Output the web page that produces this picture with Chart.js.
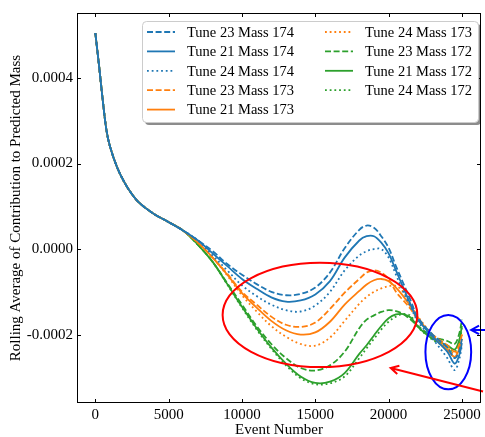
<!DOCTYPE html>
<html>
<head>
<meta charset="utf-8">
<script src="https://cdn.jsdelivr.net/npm/chart.js@4.4.0/dist/chart.umd.min.js"></script>
<style>
  html, body { margin: 0; padding: 0; background: #fff; }
  canvas { display: block; }
</style>
</head>
<body>
<canvas id="myChart" width="485" height="437"></canvas>
<script>
let events = [0, 250, 500, 750, 1000, 1500, 2000, 2500, 3000, 4000, 5000, 6000,
  7000, 8000, 9000, 10000, 11000, 12000, 13000, 14000, 15000, 16000, 17000, 18000, 18500,
  19000, 19500, 20000, 20500, 21000, 21500, 22000, 23000, 24000, 24500, 24800, 25000];

// Mass 174
let t23m174 = [5.05e-4, 4.3e-4, 3.5e-4, 2.8e-4, 2.4e-4, 1.9e-4, 1.55e-4, 1.28e-4, 1.08e-4, 0.82e-4, 0.63e-4, 0.43e-4,
  0.2e-4, -0.05e-4, -0.35e-4, -0.6e-4, -0.82e-4, -1.0e-4, -1.08e-4, -1.05e-4, -0.9e-4, -0.55e-4, 0.02e-4, 0.45e-4, 0.55e-4,
  0.5e-4, 0.3e-4, 0.03e-4, -0.4e-4, -0.8e-4, -1.2e-4, -1.6e-4, -2.0e-4, -2.3e-4, -2.55e-4, -2.4e-4, -2.1e-4];
let t21m174 = [5.05e-4, 4.3e-4, 3.5e-4, 2.8e-4, 2.4e-4, 1.9e-4, 1.55e-4, 1.28e-4, 1.08e-4, 0.82e-4, 0.63e-4, 0.43e-4,
  0.2e-4, -0.1e-4, -0.4e-4, -0.7e-4, -0.93e-4, -1.13e-4, -1.23e-4, -1.2e-4, -1.06e-4, -0.75e-4, -0.2e-4, 0.2e-4, 0.3e-4,
  0.3e-4, 0.15e-4, -0.1e-4, -0.5e-4, -0.9e-4, -1.3e-4, -1.65e-4, -2.05e-4, -2.4e-4, -2.68e-4, -2.5e-4, -2.2e-4];
let t24m174 = [5.05e-4, 4.3e-4, 3.5e-4, 2.8e-4, 2.4e-4, 1.9e-4, 1.55e-4, 1.28e-4, 1.08e-4, 0.82e-4, 0.63e-4, 0.43e-4,
  0.2e-4, -0.15e-4, -0.5e-4, -0.85e-4, -1.1e-4, -1.3e-4, -1.43e-4, -1.46e-4, -1.32e-4, -1.0e-4, -0.5e-4, -0.15e-4, -0.05e-4,
  0.0e-4, 0.0e-4, -0.2e-4, -0.6e-4, -1.0e-4, -1.35e-4, -1.7e-4, -2.1e-4, -2.55e-4, -2.83e-4, -2.6e-4, -2.25e-4];

// Mass 173
let t23m173 = [5.05e-4, 4.3e-4, 3.5e-4, 2.8e-4, 2.4e-4, 1.9e-4, 1.55e-4, 1.28e-4, 1.08e-4, 0.82e-4, 0.63e-4, 0.43e-4,
  0.15e-4, -0.2e-4, -0.58e-4, -1.0e-4, -1.3e-4, -1.58e-4, -1.77e-4, -1.82e-4, -1.72e-4, -1.4e-4, -1.02e-4, -0.7e-4, -0.55e-4,
  -0.5e-4, -0.55e-4, -0.7e-4, -1.0e-4, -1.2e-4, -1.4e-4, -1.65e-4, -2.0e-4, -2.25e-4, -2.4e-4, -2.25e-4, -2.0e-4];
let t21m173 = [5.05e-4, 4.3e-4, 3.5e-4, 2.8e-4, 2.4e-4, 1.9e-4, 1.55e-4, 1.28e-4, 1.08e-4, 0.82e-4, 0.63e-4, 0.43e-4,
  0.15e-4, -0.2e-4, -0.6e-4, -1.03e-4, -1.37e-4, -1.68e-4, -1.9e-4, -2.0e-4, -1.95e-4, -1.7e-4, -1.3e-4, -0.98e-4, -0.83e-4,
  -0.73e-4, -0.7e-4, -0.75e-4, -0.9e-4, -1.1e-4, -1.35e-4, -1.6e-4, -2.05e-4, -2.35e-4, -2.52e-4, -2.35e-4, -2.1e-4];
let t24m173 = [5.05e-4, 4.3e-4, 3.5e-4, 2.8e-4, 2.4e-4, 1.9e-4, 1.55e-4, 1.28e-4, 1.08e-4, 0.82e-4, 0.63e-4, 0.43e-4,
  0.15e-4, -0.2e-4, -0.62e-4, -1.08e-4, -1.46e-4, -1.8e-4, -2.05e-4, -2.22e-4, -2.26e-4, -2.07e-4, -1.68e-4, -1.28e-4, -1.12e-4,
  -1.0e-4, -0.92e-4, -0.87e-4, -0.86e-4, -1.0e-4, -1.3e-4, -1.58e-4, -2.0e-4, -2.3e-4, -2.45e-4, -2.3e-4, -2.0e-4];

// Mass 172
let t23m172 = [5.05e-4, 4.3e-4, 3.5e-4, 2.8e-4, 2.4e-4, 1.9e-4, 1.55e-4, 1.28e-4, 1.08e-4, 0.82e-4, 0.63e-4, 0.43e-4,
  0.1e-4, -0.3e-4, -0.8e-4, -1.3e-4, -1.8e-4, -2.22e-4, -2.55e-4, -2.78e-4, -2.84e-4, -2.72e-4, -2.4e-4, -1.85e-4, -1.65e-4,
  -1.55e-4, -1.47e-4, -1.43e-4, -1.45e-4, -1.52e-4, -1.65e-4, -1.8e-4, -2.05e-4, -2.15e-4, -2.22e-4, -2.0e-4, -1.65e-4];
let t21m172 = [5.05e-4, 4.3e-4, 3.5e-4, 2.8e-4, 2.4e-4, 1.9e-4, 1.55e-4, 1.28e-4, 1.08e-4, 0.82e-4, 0.63e-4, 0.43e-4,
  0.1e-4, -0.3e-4, -0.82e-4, -1.35e-4, -1.85e-4, -2.3e-4, -2.68e-4, -2.98e-4, -3.13e-4, -3.1e-4, -2.9e-4, -2.45e-4, -2.25e-4,
  -2.02e-4, -1.8e-4, -1.62e-4, -1.53e-4, -1.52e-4, -1.6e-4, -1.82e-4, -2.1e-4, -2.25e-4, -2.35e-4, -2.15e-4, -1.8e-4];
let t24m172 = [5.05e-4, 4.3e-4, 3.5e-4, 2.8e-4, 2.4e-4, 1.9e-4, 1.55e-4, 1.28e-4, 1.08e-4, 0.82e-4, 0.63e-4, 0.43e-4,
  0.1e-4, -0.3e-4, -0.83e-4, -1.37e-4, -1.88e-4, -2.33e-4, -2.72e-4, -3.02e-4, -3.16e-4, -3.14e-4, -2.98e-4, -2.55e-4, -2.32e-4,
  -2.1e-4, -1.88e-4, -1.7e-4, -1.58e-4, -1.52e-4, -1.56e-4, -1.82e-4, -2.12e-4, -2.3e-4, -2.4e-4, -2.2e-4, -1.85e-4];

let xTicks = [0, 5000, 10000, 15000, 20000, 25000];
let yTicks = [-0.0002, 0, 0.0002, 0.0004];

// hand drawn highlights, in data units
let redEllipse = { x: 15320, y: -1.54e-4, rx: 6640, ry: 1.22e-4 };
let blueEllipse = { x: 24070, y: -2.41e-4, rx: 1560, ry: 0.87e-4 };
let redArrow = { from: [26440, -3.33e-4], to: [20140, -2.78e-4] };
let blueArrow = { from: [26700, -1.89e-4], to: [25630, -1.89e-4] };

const SERIF = "'Liberation Serif', 'DejaVu Serif', serif";
const BLUE = '#1f77b4', ORANGE = '#ff7f0e', GREEN = '#2ca02c';
const DASH = [6, 2.6], DOT = [1.8, 2.9], SOLID = [];

function series(label, data, color, dash) {
  return { label: label, data: data, borderColor: color, borderDash: dash, borderWidth: 1.8,
    pointRadius: 0, tension: 0.35, fill: false };
}

/**
 * Frame with inward ticks on all four sides, like the matplotlib style
 */
const frame = {
  id: 'frame',
  afterDraw(chart) {
    const ctx = chart.ctx, a = chart.chartArea;
    const x = chart.scales.x, y = chart.scales.y;
    ctx.save();
    ctx.strokeStyle = '#000';
    ctx.lineWidth = 1;
    ctx.strokeRect(a.left + 0.5, a.top + 0.5, a.right - a.left - 1, a.bottom - a.top - 1);
    ctx.beginPath();
    xTicks.forEach(v => {
      let px = Math.round(x.getPixelForValue(v)) + 0.5;
      ctx.moveTo(px, a.bottom); ctx.lineTo(px, a.bottom - 4);
      ctx.moveTo(px, a.top); ctx.lineTo(px, a.top + 4);
    });
    yTicks.forEach(v => {
      let py = Math.round(y.getPixelForValue(v)) + 0.5;
      ctx.moveTo(a.left, py); ctx.lineTo(a.left + 4, py);
      ctx.moveTo(a.right, py); ctx.lineTo(a.right - 4, py);
    });
    ctx.stroke();
    ctx.restore();
  }
};

function arrow(ctx, x, y, a, color) {
  let x0 = x.getPixelForValue(a.from[0]), y0 = y.getPixelForValue(a.from[1]);
  let x1 = x.getPixelForValue(a.to[0]), y1 = y.getPixelForValue(a.to[1]);
  let ang = Math.atan2(y0 - y1, x0 - x1);
  ctx.strokeStyle = color;
  ctx.lineWidth = 2;
  ctx.beginPath();
  ctx.moveTo(x0, y0); ctx.lineTo(x1, y1);
  ctx.moveTo(x1 + 9 * Math.cos(ang + 0.5), y1 + 9 * Math.sin(ang + 0.5));
  ctx.lineTo(x1, y1);
  ctx.lineTo(x1 + 9 * Math.cos(ang - 0.5), y1 + 9 * Math.sin(ang - 0.5));
  ctx.stroke();
}

function ellipse(ctx, x, y, e, color) {
  let cx = x.getPixelForValue(e.x), cy = y.getPixelForValue(e.y);
  let rx = x.getPixelForValue(e.x + e.rx) - cx;
  let ry = cy - y.getPixelForValue(e.y + e.ry);
  ctx.strokeStyle = color;
  ctx.lineWidth = 2;
  ctx.beginPath();
  ctx.ellipse(cx, cy, rx, ry, 0, 0, 2 * Math.PI);
  ctx.stroke();
}

const highlights = {
  id: 'highlights',
  afterDatasetsDraw(chart) {
    const ctx = chart.ctx, x = chart.scales.x, y = chart.scales.y;
    ctx.save();
    ellipse(ctx, x, y, redEllipse, '#ff0000');
    ellipse(ctx, x, y, blueEllipse, '#0000ff');
    arrow(ctx, x, y, redArrow, '#ff0000');
    arrow(ctx, x, y, blueArrow, '#0000ff');
    ctx.restore();
  }
};

/**
 * Two column legend, first five entries on the left
 */
const legendBox = {
  id: 'legendBox',
  afterDraw(chart) {
    const ctx = chart.ctx;
    const bx = 142, by = 21, bw = 336, bh = 101;
    ctx.save();
    ctx.fillStyle = 'rgba(0,0,0,0.45)';
    ctx.beginPath(); ctx.roundRect(bx + 3, by + 3, bw, bh, 4); ctx.fill();
    ctx.fillStyle = '#fff';
    ctx.strokeStyle = '#cccccc';
    ctx.lineWidth = 1;
    ctx.beginPath(); ctx.roundRect(bx + 0.5, by + 0.5, bw, bh, 4); ctx.fill(); ctx.stroke();
    ctx.font = '14.5px ' + SERIF;
    ctx.textBaseline = 'middle';
    chart.data.datasets.forEach((d, i) => {
      let col = i < 5 ? 0 : 1, row = i < 5 ? i : i - 5;
      let lx = col ? 325 : 147, ly = 32 + row * 19.4;
      ctx.strokeStyle = d.borderColor;
      ctx.lineWidth = 1.8;
      ctx.setLineDash(d.borderDash);
      ctx.beginPath(); ctx.moveTo(lx, ly); ctx.lineTo(lx + 28, ly); ctx.stroke();
      ctx.setLineDash([]);
      ctx.fillStyle = '#000';
      ctx.fillText(d.label, lx + 40, ly + 1);
    });
    ctx.restore();
  }
};

let ctx = document.getElementById('myChart').getContext('2d');
window.myChart = new Chart(ctx, {
  type: 'line',
  data: {
    labels: events,
    datasets: [
      series('Tune 23 Mass 174', t23m174, BLUE, DASH),
      series('Tune 21 Mass 174', t21m174, BLUE, SOLID),
      series('Tune 24 Mass 174', t24m174, BLUE, DOT),
      series('Tune 23 Mass 173', t23m173, ORANGE, DASH),
      series('Tune 21 Mass 173', t21m173, ORANGE, SOLID),
      series('Tune 24 Mass 173', t24m173, ORANGE, DOT),
      series('Tune 23 Mass 172', t23m172, GREEN, DASH),
      series('Tune 21 Mass 172', t21m172, GREEN, SOLID),
      series('Tune 24 Mass 172', t24m172, GREEN, DOT)
    ]
  },
  options: {
    responsive: false,
    animation: false,
    layout: { padding: { top: 6, right: 4, left: 0, bottom: 0 } },
    plugins: { legend: { display: false }, tooltip: { enabled: false } },
    scales: {
      x: {
        type: 'linear', min: -1250, max: 26300,
        afterBuildTicks: s => { s.ticks = xTicks.map(v => ({ value: v })); },
        afterFit: s => { s.height = 34; },
        grid: { display: false, drawTicks: false },
        border: { display: false },
        ticks: { color: '#000', font: { family: SERIF, size: 15 }, padding: 3, maxRotation: 0, autoSkip: false,
          callback: v => String(v) },
        title: { display: true, text: 'Event Number', color: '#000', font: { family: SERIF, size: 15, lineHeight: 1 },
          padding: { top: 0, bottom: -1 } }
      },
      y: {
        min: -0.00036, max: 0.000552,
        afterBuildTicks: s => { s.ticks = yTicks.map(v => ({ value: v })); },
        afterFit: s => { s.width = 77; },
        grid: { display: false, drawTicks: false },
        border: { display: false },
        ticks: { color: '#000', font: { family: SERIF, size: 15 }, padding: 4, autoSkip: false,
          callback: v => v.toFixed(4) },
        title: { display: true, text: 'Rolling Average of Contribution to Predicted Mass', color: '#000',
          font: { family: SERIF, size: 15, lineHeight: 1 }, padding: { top: 9, bottom: 0 } }
      }
    }
  },
  plugins: [frame, highlights, legendBox]
});
</script>
</body>
</html>
